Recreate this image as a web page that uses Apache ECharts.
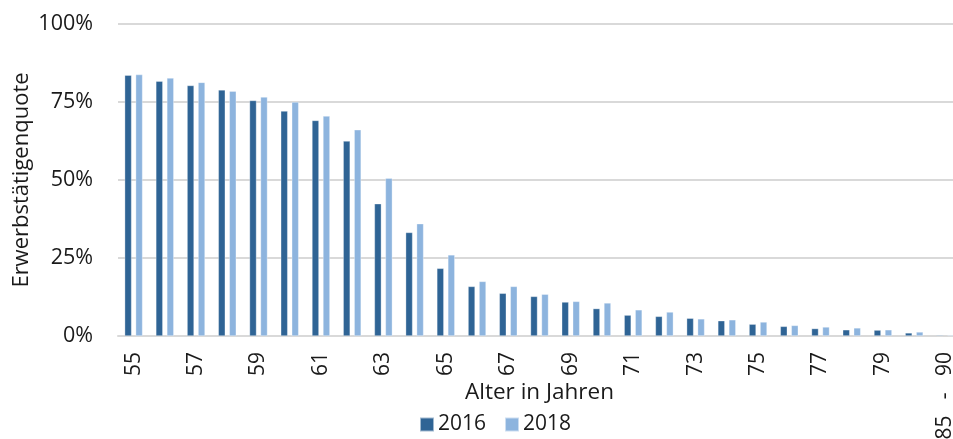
<!DOCTYPE html>
<html>
<head>
<meta charset="utf-8">
<script src="https://cdn.jsdelivr.net/npm/echarts@6/dist/echarts.min.js"></script>
<style>
  html, body { margin: 0; padding: 0; background: #fff; }
  #chart { width: 953px; height: 439px; }
</style>
</head>
<body>
<div id="chart"></div>
<script>
// Altersgruppen (Jahre)
const ageGroups = ['55','56','57','58','59','60','61','62','63','64','65','66','67','68','69',
  '70','71','72','73','74','75','76','77','78','79','80   -   84','85   -   90'];
// Erwerbstätigenquote in Prozent
const rate2016 = [83.6, 81.7, 80.3, 78.9, 75.5, 72.1, 69.1, 62.5, 42.4, 33.2, 21.7, 15.9, 13.7, 12.7,
  10.9, 8.8, 6.7, 6.3, 5.7, 4.9, 3.8, 3.1, 2.4, 2.0, 1.9, 1.0, 0.3];
const rate2018 = [83.8, 82.7, 81.3, 78.5, 76.6, 75.0, 70.5, 66.1, 50.6, 36.0, 26.0, 17.5, 15.9, 13.4,
  11.1, 10.6, 8.4, 7.7, 5.5, 5.2, 4.5, 3.4, 2.9, 2.6, 2.0, 1.3, 0.3];
const seriesNames = ['2016', '2018'];
const yTicks = [0, 25, 50, 75, 100];

const FONT = '"Open Sans", "Liberation Sans", sans-serif';
const chart = echarts.init(document.getElementById('chart'), null, { renderer: 'canvas' });

const barStyle = (color) => ({
  type: 'bar',
  barWidth: 7,
  barGap: '57%',
  itemStyle: { color: color, borderColor: 'rgba(255,255,255,0.55)', borderWidth: 0.6 },
  emphasis: { disabled: true }
});

chart.setOption({
  animation: false,
  textStyle: { fontFamily: FONT },
  grid: { left: 118, right: -8, top: 24, bottom: 103, containLabel: false, outerBoundsMode: 'none' },
  legend: {
    top: 409,
    left: 414,
    itemWidth: 14,
    itemHeight: 14,
    itemGap: 18,
    icon: 'rect',
    textStyle: { fontFamily: FONT, fontSize: 21, color: '#1a1a1a', padding: [0, 0, 0, -1] },
    data: seriesNames
  },
  xAxis: {
    type: 'category',
    data: ageGroups,
    name: 'Alter in Jahren',
    nameLocation: 'middle',
    nameGap: 45,
    nameMoveOverlap: false,
    nameTextStyle: { fontFamily: FONT, fontSize: 22.5, color: '#1a1a1a' },
    axisLine: { lineStyle: { color: '#d9d9d9', width: 2 } },
    axisTick: { show: false },
    axisLabel: {
      interval: 1,
      rotate: 90,
      margin: 16,
      hideOverlap: false,
      fontFamily: FONT,
      fontSize: 21,
      color: '#1a1a1a'
    }
  },
  yAxis: {
    type: 'value',
    min: yTicks[0],
    max: yTicks[yTicks.length - 1],
    interval: 25,
    name: 'Erwerbstätigenquote',
    nameLocation: 'middle',
    nameRotate: 90,
    nameGap: 85,
    nameMoveOverlap: false,
    nameTextStyle: { fontFamily: FONT, fontSize: 22, color: '#1a1a1a' },
    axisLine: { show: false },
    axisTick: { show: false },
    splitLine: { lineStyle: { color: '#d9d9d9', width: 2 } },
    axisLabel: {
      margin: 25,
      fontFamily: FONT,
      fontSize: 21.5,
      color: '#1a1a1a',
      formatter: (v) => v + '%'
    }
  },
  series: [
    Object.assign(barStyle('#2f6495'), { name: seriesNames[0], data: rate2016 }),
    Object.assign(barStyle('#8db4de'), { name: seriesNames[1], data: rate2018 })
  ]
});
</script>
</body>
</html>
